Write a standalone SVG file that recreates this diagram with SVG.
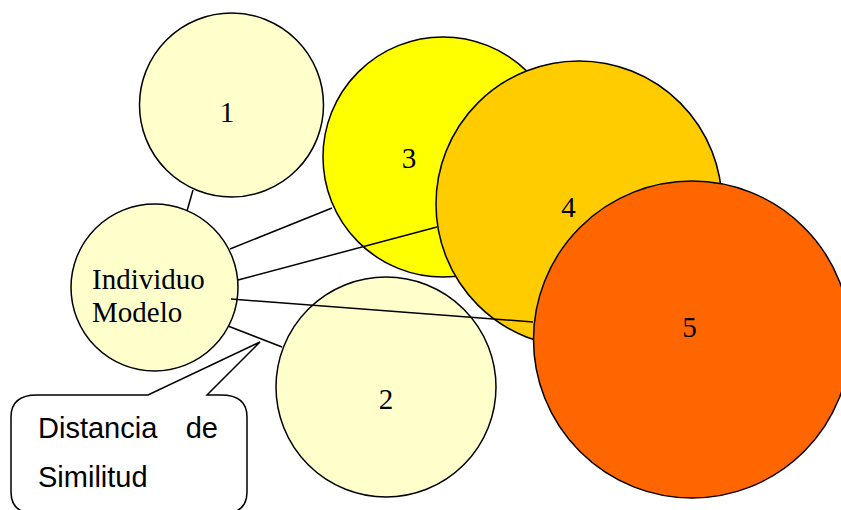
<svg xmlns="http://www.w3.org/2000/svg" width="841" height="510" viewBox="0 0 841 510">
  <style>
    .node { stroke: #000; stroke-width: 1.5; }
    .pale { fill: #FFFFCC; }
    .lbl { font-family: "Liberation Serif", "Times New Roman", serif; font-size: 29px; fill: #000; }
    .num { text-anchor: middle; }
    .link { stroke: #000; stroke-width: 1.5; fill: none; }
    .note { font-family: "Liberation Sans", Arial, sans-serif; font-size: 29px; fill: #000; }
  </style>
  <rect width="841" height="510" fill="#fff"/>

  <!-- similarity groups -->
  <g id="node-1">
    <circle class="node pale" cx="231.5" cy="105" r="92"/>
    <text class="lbl num" x="227" y="122">1</text>
  </g>
  <g id="node-model">
    <circle class="node pale" cx="154.5" cy="287.5" r="83.5"/>
    <text class="lbl" x="92" y="289">Individuo</text>
    <text class="lbl" x="92" y="322">Modelo</text>
  </g>
  <g id="node-2">
    <circle class="node pale" cx="386" cy="387" r="110"/>
    <text class="lbl num" x="386" y="409">2</text>
  </g>
  <g id="node-3">
    <circle class="node" fill="#FFFF00" cx="443" cy="157" r="120"/>
    <text class="lbl num" x="409" y="168">3</text>
  </g>
  <g id="node-4">
    <circle class="node" fill="#FFCC00" cx="579" cy="204" r="143"/>
    <text class="lbl num" x="568.5" y="217">4</text>
  </g>
  <g id="node-5">
    <circle class="node" fill="#FF6600" cx="692" cy="339.5" r="158.5"/>
    <text class="lbl num" x="689.5" y="337">5</text>
  </g>

  <!-- distances from the model individual -->
  <g id="connectors">
    <line class="link" x1="193" y1="190" x2="187" y2="211"/>
    <line class="link" x1="230" y1="249" x2="332" y2="208"/>
    <line class="link" x1="238" y1="280" x2="437" y2="227"/>
    <line class="link" x1="231" y1="299" x2="533" y2="322"/>
    <line class="link" x1="228" y1="326" x2="282" y2="347"/>
  </g>

  <!-- callout -->
  <g id="callout">
    <path class="node" fill="#fff" d="M37,395 L148,395 L260,342 L207,395 L221,395 Q247,395 247,417 L247,492 Q247,514 221,514 L37,514 Q11,514 11,492 L11,417 Q11,395 37,395 Z"/>
    <text class="note" x="38" y="438">Distancia</text>
    <text class="note" x="218" y="438" text-anchor="end">de</text>
    <text class="note" x="38" y="487">Similitud</text>
  </g>
</svg>
